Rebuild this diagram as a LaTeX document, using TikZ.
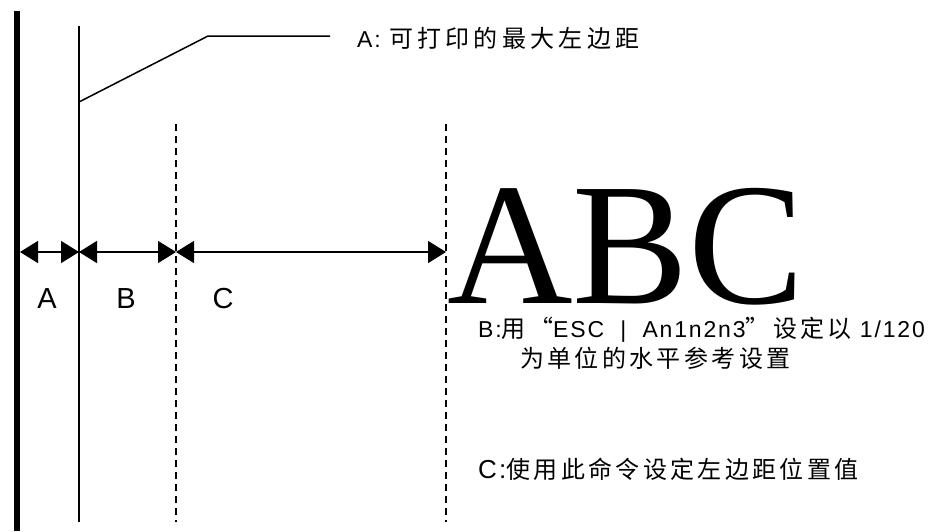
\documentclass[tikz,border=0pt]{standalone}
\usepackage{fontspec}
\setmainfont{Liberation Sans}
\newfontfamily\lat[LetterSpace=8]{Liberation Sans}
\newfontfamily\cjk[LetterSpace=14]{Noto Sans CJK SC}
\newfontfamily\cjkw[LetterSpace=18]{Noto Sans CJK SC}
\newfontfamily\bigserif{Liberation Serif}
\usetikzlibrary{arrows.meta}
\tikzset{
  dim/.style={line width=1.5pt,{Triangle[length=18pt,width=22pt]}-{Triangle[length=18pt,width=22pt]}},
  guide/.style={line width=1.5pt,dash pattern=on 7pt off 5pt},
  lbl/.style={font=\fontsize{29}{32}\selectfont,inner sep=0pt},
  note/.style={font=\fontsize{24}{28}\selectfont,inner sep=0pt,anchor=base west},
}
\begin{document}
\begin{tikzpicture}[x=1pt,y=-1pt]
\useasboundingbox (0,0) rectangle (933,531);
% vertical lines
\coordinate (t0) at (17,11);
\coordinate (b0) at (17,531);
\coordinate (t1) at (79,26);
\coordinate (b1) at (79,522);
\coordinate (t2) at (176,124);
\coordinate (b2) at (176,522);
\coordinate (t3) at (446,124);
\coordinate (b3) at (446,522);
\draw[line width=6pt] (t0) -- (b0);
\draw[line width=1.5pt] (t1) -- (b1);
\draw[guide] (t2) -- (b2);
\draw[guide] (t3) -- (b3);
% dimension arrows
\coordinate (a0) at (20,252);
\coordinate (a1) at (79,252);
\coordinate (a2) at (176,252);
\coordinate (a3) at (446,252);
\draw[dim] (a0) -- (a1);
\draw[dim] (a1) -- (a2);
\draw[dim] (a2) -- (a3);
\node[lbl] (la) at (47,299) {A};
\node[lbl] (lb) at (126,299) {B};
\node[lbl] (lc) at (223,299) {C};
% leader
\coordinate (j) at (79,102);
\coordinate (k) at (208,36);
\coordinate (e) at (330,36);
\draw[line width=1.5pt] (j) -- (k) -- (e);
\node[note] (ta) at (357,47) {{\fontsize{23}{28}\lat A:\ }\cjkw 可打印的最大左边距};
% big ABC
\node[inner sep=0pt,anchor=base west,text depth=0pt,font=\bigserif\fontsize{174}{174}\selectfont] (abc) at (447,303) {ABC};
% notes
\node[note] (tb1) at (478,337) {{\fontsize{23}{28}\lat B:}\cjk 用“{\fontsize{23}{28}\lat ESC\hspace{8pt} | \hspace{8pt}An1n2n3}”设定以{\fontsize{23}{28}\lat\ 1/120}};
\node[note] (tb2) at (520,367) {\cjk 为单位的水平参考设置};
\node[note] (tc) at (478,478) {{\fontsize{26}{28}\lat C:}\cjk 使用此命令设定左边距位置值};
\end{tikzpicture}
\end{document}
